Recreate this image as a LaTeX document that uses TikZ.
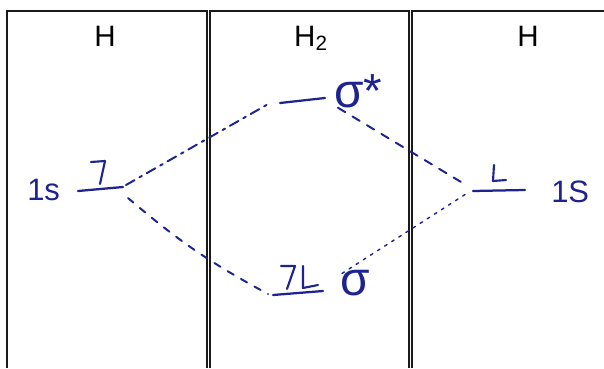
\documentclass[tikz,border=0pt]{standalone}
\usepackage{fontspec}
\setmainfont{Liberation Sans}
\usepackage{tikz}
\usetikzlibrary{calc}
\definecolor{MOInk}{HTML}{1E2390}
\definecolor{MOFrame}{HTML}{1A1A1A}

\begin{document}
\begin{tikzpicture}[x=0.025cm,y=-0.025cm,
  frame/.style={MOFrame,line width=1.1pt},
  level/.style={MOInk,line width=1.6pt,line cap=round},
  spin/.style={MOInk,line width=1.5pt,line cap=round,line join=round},
  corr/.style={MOInk,line width=1.4pt,line cap=round},
  hand/.style={MOInk,font=\fontsize{22}{24}\selectfont,inner sep=0pt},
  head/.style={font=\fontsize{21}{23}\selectfont,inner sep=0pt}]
\path[use as bounding box] (0,0) rectangle (604,368);
\fill[white] (0,0) rectangle (604,368);
% panels
\draw[frame] (7,368) -- (7,11) -- (207,11) -- (207,368);
\draw[frame] (210,368) -- (210,11) -- (409,11) -- (409,368);
\draw[frame] (412,368) -- (412,11) -- (604,11);
\node[head,anchor=base] (hA) at (105,46) {H};
\node[head,anchor=base] (hB) at (311,46) {H\textsubscript{2}};
\node[head,anchor=base] (hC) at (528,46) {H};
% atomic levels
\coordinate (aL) at (78,191);
\coordinate (aR) at (123,187);
\coordinate (bL) at (473,191);
\coordinate (bR) at (525,190);
\draw[level] (aL) -- (aR);
\draw[level] (bL) -- (bR);
\node[hand,anchor=base west] (sA) at (27,200) {1s};
\node[hand,anchor=base west] (sB) at (551,202) {1S};
\draw[spin] (100,184) -- (105,161) -- (91,162);
\draw[spin] (494,165) -- (493,181) -- (506,180);
% molecular levels
\coordinate (uL) at (280,103);
\coordinate (uR) at (325,98);
\coordinate (dL) at (273,295);
\coordinate (dR) at (323,291);
\draw[level] (uL) -- (uR);
\draw[level] (dL) -- (dR);
\node[hand,anchor=base west,font=\fontsize{34}{36}\selectfont] (sU) at (334,107) {σ*};
\node[hand,anchor=base west,font=\fontsize{34}{36}\selectfont] (sD) at (340,295) {σ};
\draw[spin] (287,289) -- (295,266) -- (281,266);
\draw[spin] (303,266) -- (303,288) -- (318,285);
% correlation lines
\draw[corr,dash pattern=on 7pt off 4pt on 2pt off 4pt] (aR) ++(3,-2) -- ($(uL)+(-10,0)$);
\draw[corr,dash pattern=on 5pt off 6pt] (aR) ++(5,11) to[bend right=6] ($(dL)+(-5,-1)$);
\draw[corr,dash pattern=on 6pt off 6pt] (sU.south west) ++(4,0) -- ($(bL)+(-7,-6)$);
\draw[corr,line width=1pt,dash pattern=on 2pt off 4pt] (sD.north west) ++(2,4) -- ($(bL)+(-4,1)$);
\end{tikzpicture}
\end{document}
